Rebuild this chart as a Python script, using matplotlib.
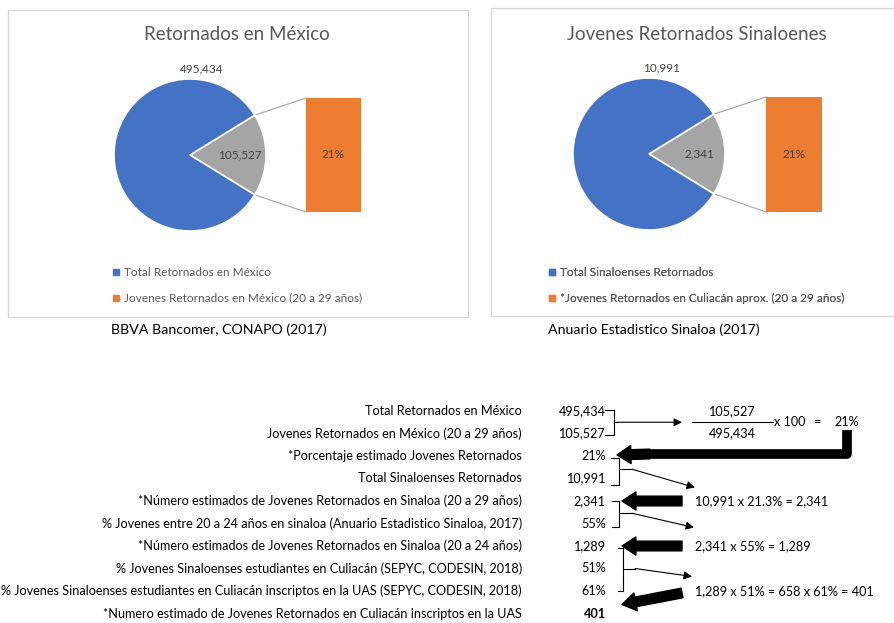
import numpy as np
import matplotlib.pyplot as plt
from matplotlib.lines import Line2D
from matplotlib.patches import Rectangle

plt.rcParams['font.family'] = ['Lato', 'DejaVu Sans']

# =========================
# DATA
# =========================
pie_titles = ["Retornados en México", "Jovenes Retornados Sinaloenes"]
mexico_values = [495434, 105527]
sinaloa_values = [10991, 2341]
bar_pct = [21, 21]
legend_mexico = ["Total Retornados en México",
                 "Jovenes Retornados en México (20 a 29 años)"]
legend_sinaloa = ["Total Sinaloenses Retornados",
                  "*Jovenes Retornados en Culiacán aprox. (20 a 29 años)"]
sources = ["BBVA Bancomer, CONAPO (2017)", "Anuario Estadistico Sinaloa (2017)"]

table_labels = [
    "Total Retornados en México",
    "Jovenes Retornados en México (20 a 29 años)",
    "*Porcentaje estimado Jovenes Retornados",
    "Total Sinaloenses Retornados",
    "*Número estimados de Jovenes Retornados en Sinaloa (20 a 29 años)",
    "% Jovenes entre 20 a 24 años en sinaloa (Anuario Estadistico Sinaloa, 2017)",
    "*Número estimados de Jovenes Retornados en Sinaloa (20 a 24 años)",
    "% Jovenes Sinaloenses estudiantes en Culiacán (SEPYC, CODESIN, 2018)",
    "% Jovenes Sinaloenses estudiantes en Culiacán inscriptos en la UAS (SEPYC, CODESIN, 2018)",
    "*Numero estimado de Jovenes Retornados en Culiacán inscriptos en la UAS",
]
table_values = ["495,434", "105,527", "21%", "10,991", "2,341",
                "55%", "1,289", "51%", "61%", "401"]
calc_texts = ["10,991 x 21.3% = 2,341", "2,341 x 55% = 1,289",
              "1,289 x 51% = 658 x 61% = 401"]
fraction_num, fraction_den, fraction_res = "105,527", "495,434", "21%"

BLUE = "#4472C4"
GRAY = "#A5A5A5"
ORANGE = "#ED7D31"
TXT = "#595959"

W, H = 895, 623
fig = plt.figure(figsize=(W / 100, H / 100), dpi=100)

# overlay in pixel coordinates (y down)
ax = fig.add_axes([0, 0, 1, 1])
ax.set_xlim(0, W)
ax.set_ylim(H, 0)
ax.axis('off')


def px_axes(x0, y0, w, h):
    return fig.add_axes([x0 / W, 1 - (y0 + h) / H, w / W, h / H])


def pie_panel(values, pct, title, legend_labels, source, box, cx, cy, bar_box,
              title_x, leg_x, src_x):
    bx, by, bw, bh = box
    ax.add_patch(Rectangle((bx, by), bw, bh, fill=False, edgecolor="#D9D9D9", lw=1))
    ax.text(title_x, 34, title, ha='center', va='center', fontsize=13.5, color=TXT)

    r = 76
    pax = px_axes(cx - 1.25 * r, cy - 1.25 * r, 2.5 * r, 2.5 * r)
    total = sum(values)
    half = 180.0 * values[1] / total
    pax.pie([values[1], values[0]], colors=[GRAY, BLUE],
            startangle=-half, counterclock=True,
            wedgeprops=dict(edgecolor='white', linewidth=1.2))
    pax.set_xlim(-1.25, 1.25)
    pax.set_ylim(-1.25, 1.25)
    pax.text(0.16, 1.13, f"{values[0]:,}", ha='center', va='center',
             fontsize=8.5, color="#404040")
    pax.text(0.66, 0, f"{values[1]:,}", ha='center', va='center',
             fontsize=8.5, color="#404040")

    x0, y0, x1, y1 = bar_box
    bax = px_axes(x0, y0, x1 - x0, y1 - y0)
    bax.bar(0, pct, width=1, color=ORANGE)
    bax.set_xlim(-0.5, 0.5)
    bax.set_ylim(0, pct)
    bax.axis('off')
    bax.text(0, pct / 2, f"{pct}%", ha='center', va='center',
             fontsize=8.5, color="#404040")

    # connector lines from the grey slice to the bar
    a = np.radians(half)
    ax.plot([cx + r * np.cos(a), x0], [cy - r * np.sin(a), y0], color=GRAY, lw=0.8)
    ax.plot([cx + r * np.cos(a), x0], [cy + r * np.sin(a), y1], color=GRAY, lw=0.8)

    handles = [Line2D([], [], marker='s', ls='', color=BLUE, markersize=4.5),
               Line2D([], [], marker='s', ls='', color=ORANGE, markersize=4.5)]
    leg = ax.legend(handles, legend_labels, loc='upper left',
                    bbox_to_anchor=(leg_x, 267), bbox_transform=ax.transData,
                    frameon=False, fontsize=8.5, handlelength=0.7,
                    handletextpad=0.3, labelspacing=1.25, borderpad=0,
                    borderaxespad=0, labelcolor=TXT)
    ax.add_artist(leg)
    ax.text(src_x, 330, source, ha='center', va='center', fontsize=10.2, color='black')


pie_panel(mexico_values, bar_pct[0], pie_titles[0], legend_mexico, sources[0],
          (8, 10, 460, 307), 190, 155, (306, 98, 361, 212), 237, 112, 219)
pie_panel(sinaloa_values, bar_pct[1], pie_titles[1], legend_sinaloa, sources[1],
          (491, 8, 420, 308), 649, 154, (766, 97, 822, 212), 697, 548, 654)

# =========================
# TABLE
# =========================
FS = 9.1
r = [411 + 22.5 * i for i in range(len(table_labels))]
for i, (lab, val) in enumerate(zip(table_labels, table_values)):
    ax.text(522, r[i], lab, ha='right', va='center', fontsize=FS, color='black')
    ax.text(606, r[i], val, ha='right', va='center', fontsize=FS, color='black',
            fontweight='bold' if i == len(table_values) - 1 else 'normal')

# fraction 105,527 / 495,434 x 100 = 21%
mid01 = (r[0] + r[1]) / 2
ax.text(732, r[0], fraction_num, ha='center', va='center', fontsize=FS)
ax.text(732, r[1], fraction_den, ha='center', va='center', fontsize=FS)
ax.plot([692, 773], [mid01, mid01], color='black', lw=0.8)
ax.text(774, mid01, "x 100", ha='left', va='center', fontsize=FS)
ax.text(817, mid01, "=", ha='center', va='center', fontsize=FS)
ax.text(847, mid01, fraction_res, ha='center', va='center', fontsize=FS)

for k, txt in enumerate(calc_texts):
    ax.text(695, [r[4], r[6], r[8]][k], txt, ha='left', va='center', fontsize=FS)

thin = dict(arrowstyle='-|>', mutation_scale=12, color='black', lw=0.8,
            shrinkA=0, shrinkB=0)
thick = dict(arrowstyle='simple,head_length=10,head_width=13,tail_width=7',
             mutation_scale=1, color='black', shrinkA=0, shrinkB=0)


def brace(x_in, y_top, y_bot, x_v, y_mid, x_out):
    ax.plot([x_in, x_v, x_v, x_in], [y_top, y_top, y_bot, y_bot], color='black', lw=0.8)
    ax.plot([x_v, x_out], [y_mid, y_mid], color='black', lw=0.8)


brace(605, r[0] - 1, r[1] + 1, 614, mid01, 617)
ax.annotate('', xy=(682, mid01), xytext=(617, mid01), arrowprops=thin)

m = (r[2] + r[3] + 4) / 2
brace(611, r[2] + 2, r[3] + 6, 619, m, 632)
ax.annotate('', xy=(695, r[3] + 9), xytext=(632, m), arrowprops=thin)

m = (r[4] + r[5] + 2) / 2
brace(612, r[4], r[5] + 3, 619, m, 632)
ax.annotate('', xy=(694, r[5] + 4), xytext=(632, m), arrowprops=thin)

brace(618, r[6] + 2, r[8], 623, r[7], 635)
ax.annotate('', xy=(692, r[7] + 8), xytext=(635, r[7]), arrowprops=thin)

# thick arrows
ax.plot([847, 847, 645], [mid01 + 8, r[2] - 2, r[2] - 2], color='black', lw=7,
        solid_joinstyle='round', solid_capstyle='butt')
ax.annotate('', xy=(617, r[2] - 1), xytext=(650, r[2] - 2), arrowprops=thick)
ax.annotate('', xy=(622, r[4]), xytext=(682, r[4]), arrowprops=thick)
ax.annotate('', xy=(622, r[6]), xytext=(682, r[6]), arrowprops=thick)
ax.annotate('', xy=(622, r[9] - 9), xytext=(682, r[8] + 2), arrowprops=thick)

fig.savefig("out.png", dpi=100)
